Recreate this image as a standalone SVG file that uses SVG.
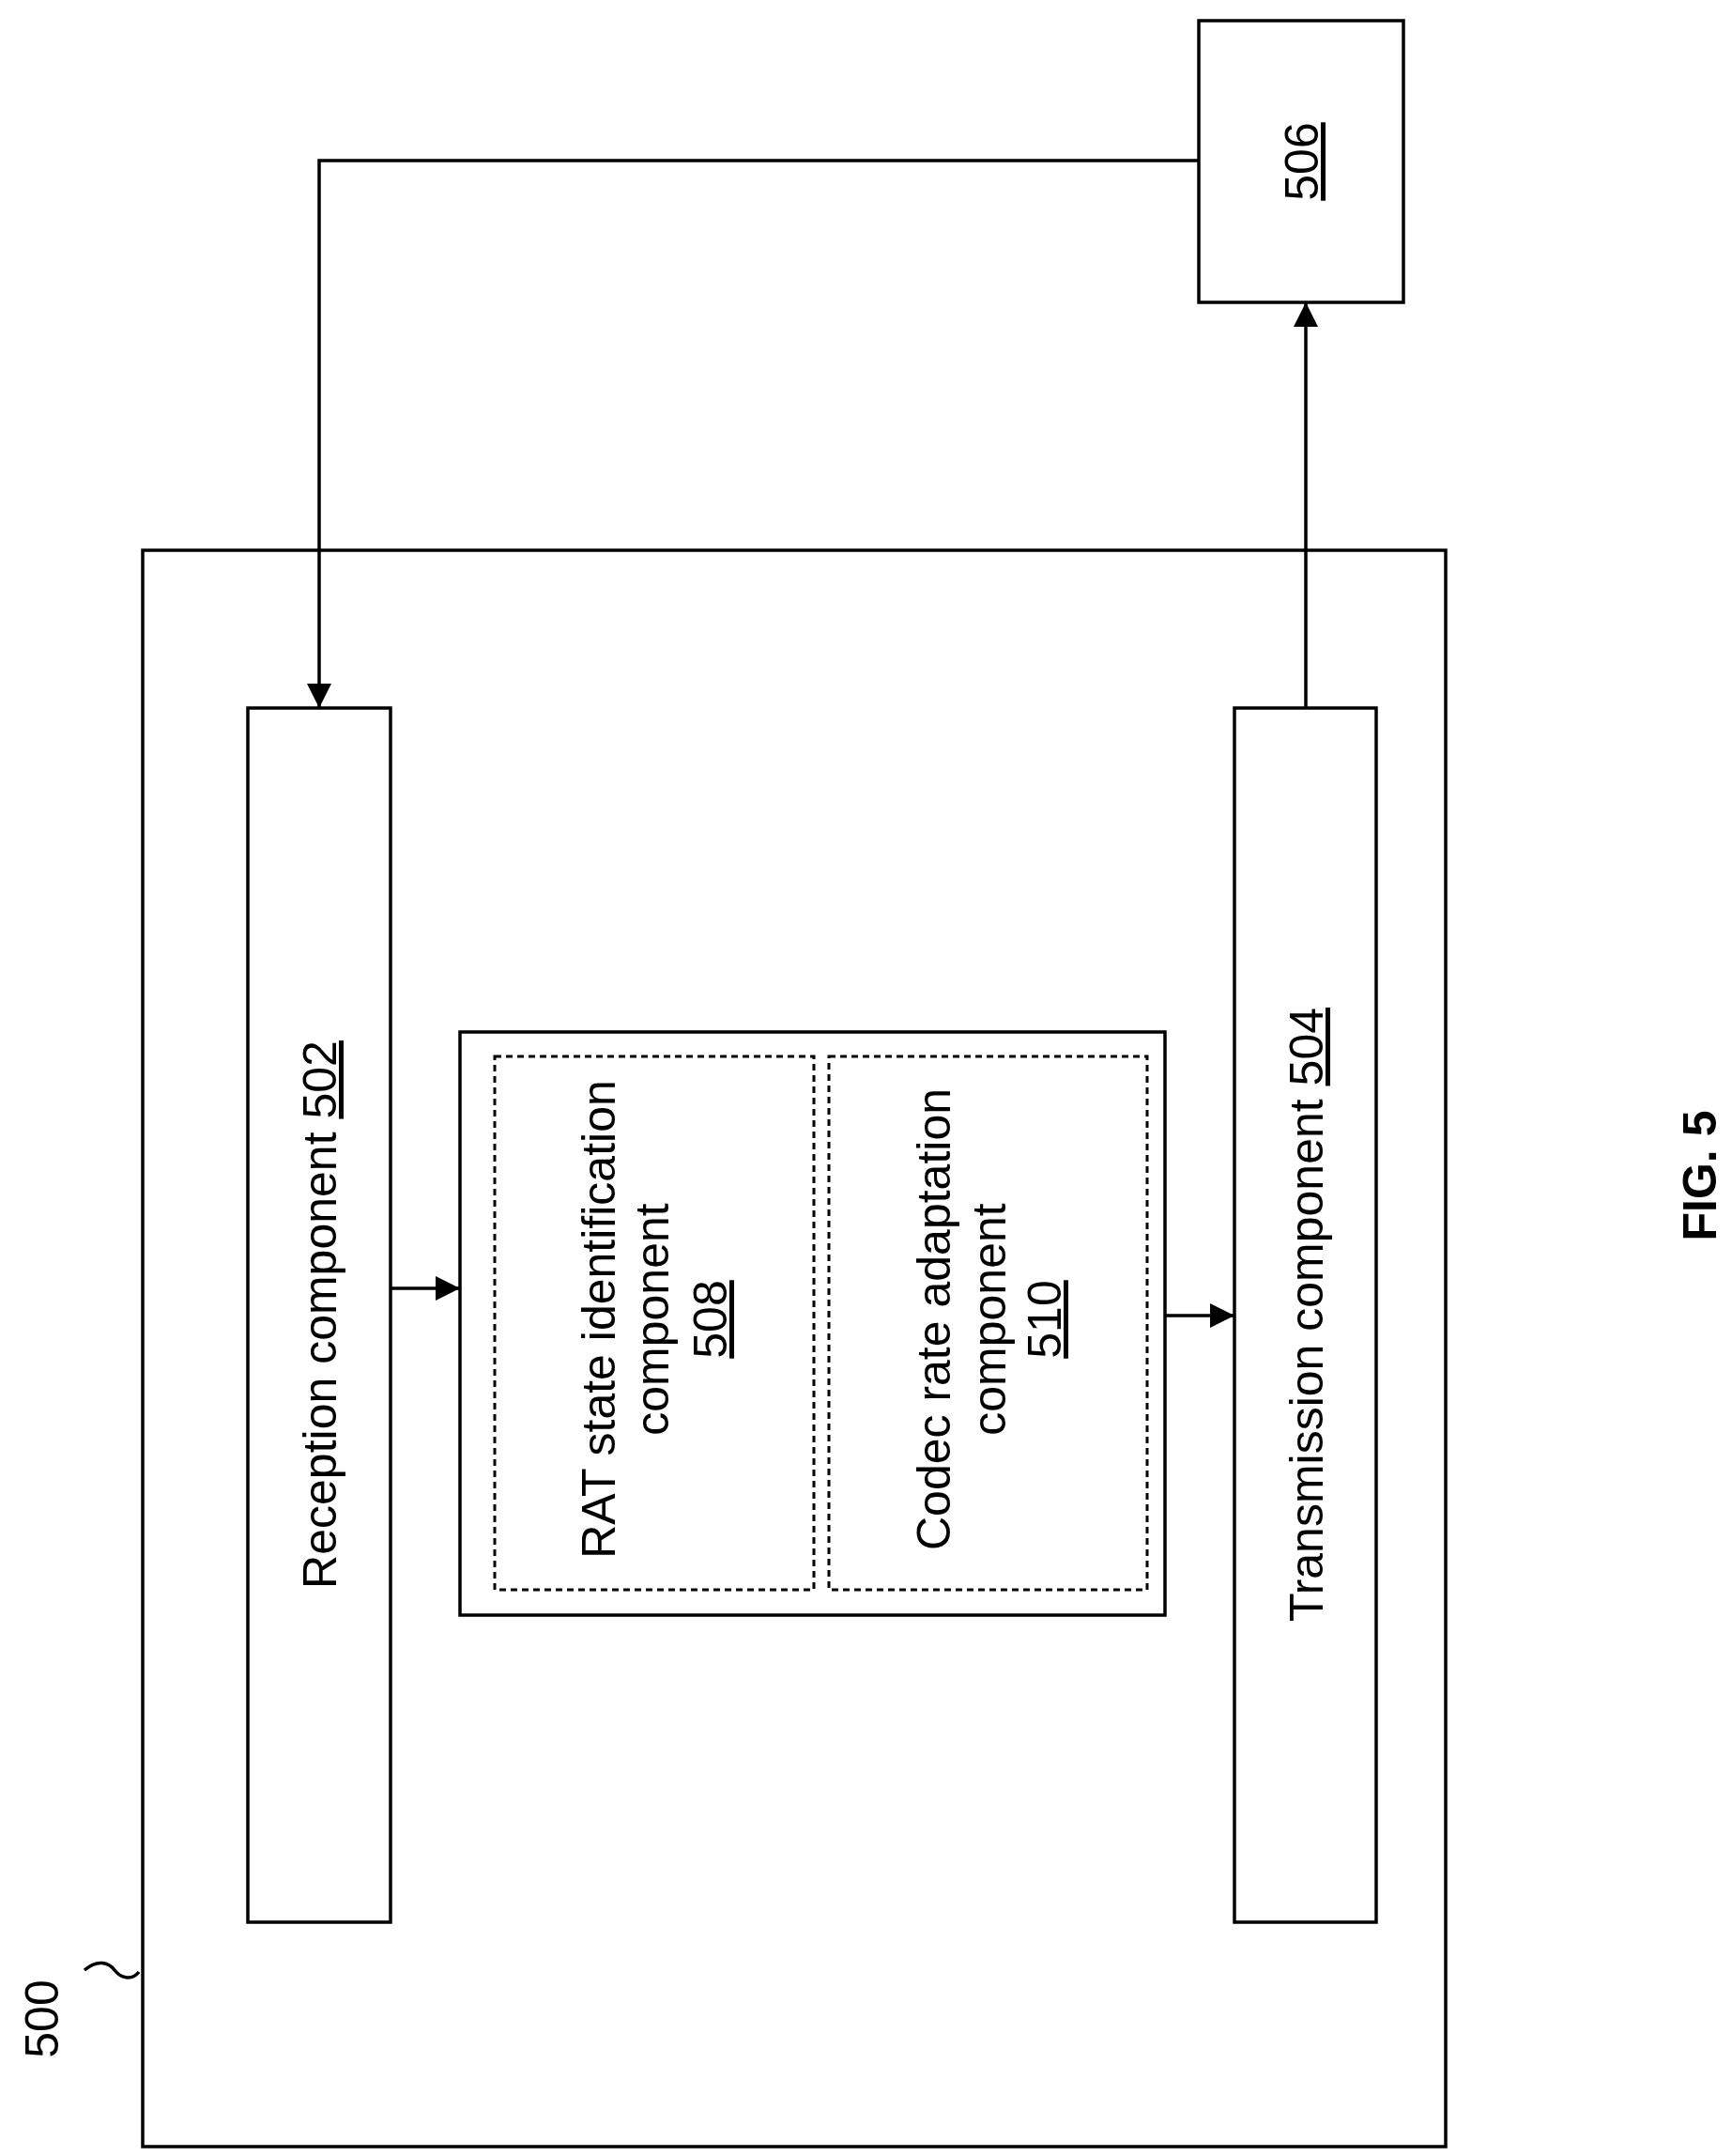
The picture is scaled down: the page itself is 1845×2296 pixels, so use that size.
<svg xmlns="http://www.w3.org/2000/svg" width="1845" height="2296" viewBox="0 0 1845 2296">
<style>
.b{fill:#fff;stroke:#000;stroke-width:3.5}
.d{fill:none;stroke:#000;stroke-width:3;stroke-dasharray:7 5}
.c{fill:none;stroke:#000;stroke-width:3.5}
text{font-family:"Liberation Sans",Arial,sans-serif;font-size:50px;text-anchor:middle}
</style>
<defs>
<marker id="ah" viewBox="0 0 10 10" refX="10" refY="5" markerWidth="30" markerHeight="26" orient="auto" markerUnits="userSpaceOnUse"><path d="M0,0L10,5L0,10z"/></marker></defs>
<rect width="1845" height="2296" fill="#fff"/>
<g id="n500"><rect class="b" x="152" y="586" width="1388" height="1700"/>
<path class="c" d="M90,2098 C104,2086 116,2090 122,2098 S140,2110 148,2100" stroke-width="2.5"/>
<text transform="rotate(-90 62 2150)" x="62" y="2150">500</text></g>
<g id="n502"><rect class="b" x="264" y="754" width="152" height="1293"/>
<text transform="rotate(-90 358 1400)" x="358" y="1400">Reception component <tspan text-decoration="underline">502</tspan></text></g>
<g id="n504"><rect class="b" x="1315" y="754" width="151" height="1293"/>
<text transform="rotate(-90 1409 1400)" x="1409" y="1400">Transmission component <tspan text-decoration="underline">504</tspan></text></g>
<g id="n506"><rect class="b" x="1277" y="22" width="218" height="300"/>
<text transform="rotate(-90 1404 172)" x="1404" y="172" text-decoration="underline">506</text></g>
<g id="nmid"><rect class="b" x="490" y="1099" width="751" height="621"/></g>
<g id="n508"><rect class="d" x="527" y="1125" width="340" height="568"/>
<text transform="rotate(-90 655 1405)" x="655" y="1405">RAT state identification</text>
<text transform="rotate(-90 712 1405)" x="712" y="1405">component</text>
<text transform="rotate(-90 774 1405)" x="774" y="1405" text-decoration="underline">508</text></g>
<g id="n510"><rect class="d" x="883" y="1125" width="339" height="568"/>
<text transform="rotate(-90 1012 1405)" x="1012" y="1405">Codec rate adaptation</text>
<text transform="rotate(-90 1071 1405)" x="1071" y="1405">component</text>
<text transform="rotate(-90 1130 1405)" x="1130" y="1405" text-decoration="underline">510</text></g>
<text transform="rotate(-90 1828 1252)" x="1828" y="1252" font-size="88" font-weight="bold">FIG. 5</text>
<g id="connectors">
<path class="c" marker-end="url(#ah)" d="M1277,171H340V754"/>
<path class="c" marker-end="url(#ah)" d="M1391,754V322"/>
<path class="c" marker-end="url(#ah)" d="M416,1372H490"/>
<path class="c" marker-end="url(#ah)" d="M1241,1401H1315"/>
</g>
</svg>
